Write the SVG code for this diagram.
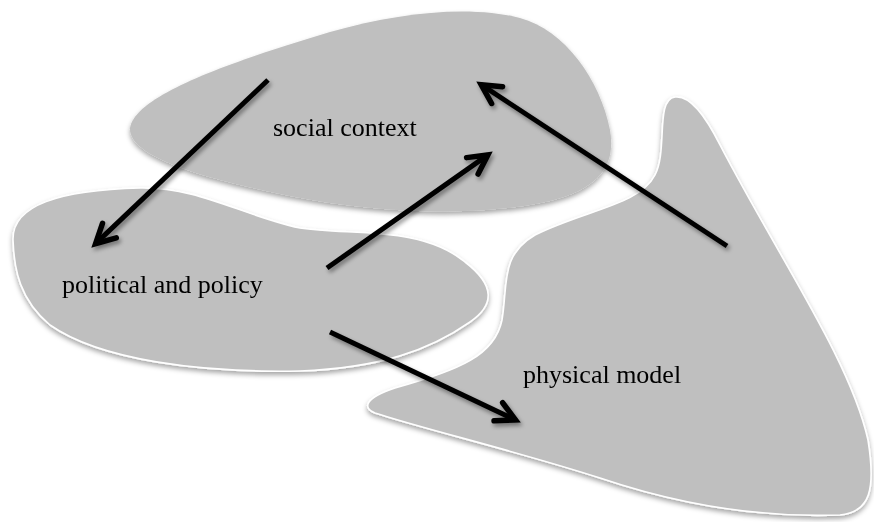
<svg xmlns="http://www.w3.org/2000/svg" width="874" height="522" viewBox="0 0 874 522">
<style>
.blob{fill:#bfbfbf;}
.outl{stroke:#ffffff;stroke-width:1.6;}
.lbl{font-family:"Liberation Serif","Times New Roman",serif;font-size:26px;fill:#000;}
.arr{stroke:#000;stroke-width:5;fill:none;stroke-linecap:butt;}
</style>
<defs>
<filter id="sh" x="-10%" y="-10%" width="120%" height="130%">
<feDropShadow dx="0" dy="3" stdDeviation="2.5" flood-color="#000" flood-opacity="0.35"/>
</filter>
<filter id="ash" x="-10%" y="-10%" width="130%" height="130%">
<feDropShadow dx="2" dy="3" stdDeviation="2" flood-color="#000" flood-opacity="0.4"/>
</filter>
<marker id="head" markerUnits="userSpaceOnUse" markerWidth="40" markerHeight="40" viewBox="-30 -20 40 40" refX="0" refY="0" orient="auto" overflow="visible">
<path d="M-19,-10 L0,0 L-19,10" fill="none" stroke="#000" stroke-width="5.5" stroke-linecap="round" stroke-linejoin="miter"/>
</marker>
</defs>
<rect width="874" height="522" fill="#ffffff"/>
<g id="social-context" filter="url(#sh)">
<path class="blob" d="M130,128 C135,95 230,62 330,32 C400,12 470,5 520,18 C565,30 600,80 610,130 C616,165 600,188 550,201 C480,217 380,214 290,196 C210,180 128,158 130,128 Z"/>
<text class="lbl" x="273" y="136">social context</text>
</g>
<g id="political-and-policy" filter="url(#sh)">
<path class="blob outl" d="M13,240 C12,205 60,190 140,188 C200,187 240,215 300,228 C350,236 420,225 465,262 C495,285 495,305 470,322 C430,350 380,368 300,371 C200,373 100,360 50,325 C20,300 14,270 13,240 Z"/>
<text class="lbl" x="62" y="293">political and policy</text>
</g>
<g id="physical-model" filter="url(#sh)">
<path class="blob outl" d="M675,97 C690,95 705,115 720,145 C780,260 850,360 868,440 C876,490 870,512 840,515 C760,518 680,505 600,478 C520,452 420,428 375,413 C362,408 365,398 395,388 C460,370 495,355 502,320 C508,285 500,255 535,235 C585,210 640,205 655,175 C668,150 655,100 675,97 Z"/>
<text class="lbl" x="523" y="383">physical model</text>
</g>
<g id="connectors" filter="url(#ash)">
<line class="arr" x1="268" y1="80" x2="95.6" y2="243.6" marker-end="url(#head)"/>
<line class="arr" x1="327" y1="268" x2="487.9" y2="154.9" marker-end="url(#head)"/>
<line class="arr" x1="727" y1="246" x2="481.2" y2="84.7" marker-end="url(#head)"/>
<line class="arr" x1="330" y1="332" x2="515.5" y2="419.9" marker-end="url(#head)"/>
</g>
</svg>
